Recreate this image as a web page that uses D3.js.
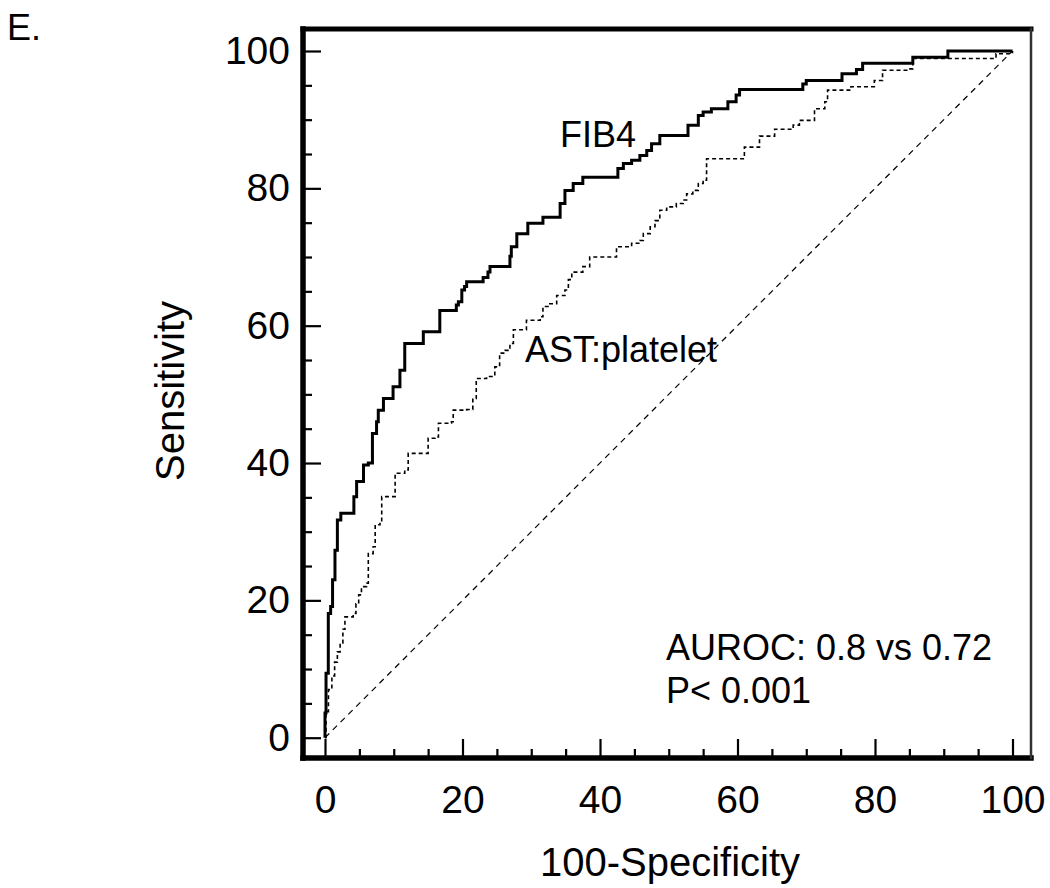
<!DOCTYPE html>
<html>
<head>
<meta charset="utf-8">
<script src="https://cdn.jsdelivr.net/npm/d3@7"></script>
<style>
  html, body { margin: 0; padding: 0; background: #fff; }
  svg { display: block; }
  text { font-family: "Liberation Sans", Arial, sans-serif; fill: #000; }
</style>
</head>
<body>
<svg id="chart" width="1050" height="888"></svg>
<script>
// ---- data ----
const xTicks = [0, 20, 40, 60, 80, 100];
const yTicks = [0, 20, 40, 60, 80, 100];
const minorStep = 5;

// FIB4 ROC: [100-Specificity, Sensitivity] at each step
const fib4Roc = [
  [0,0],[0,3.6],[0.15,9.4],[0.48,18.1],[0.82,19.1],[1.1,23.0],[1.45,27.3],[1.8,31.7],
  [2.3,32.7],[4.2,35.1],[4.6,37.3],[5.6,39.7],[6.3,40.0],[6.9,44.3],[7.5,46.0],[7.75,47.7],
  [8.5,49.4],[9.9,51.1],[10.9,53.5],[11.6,57.4],[14.3,59.1],[16.7,62.2],[19.1,63.0],[19.4,63.5],
  [19.9,65.2],[20.3,65.7],[20.6,66.4],[23.0,67.0],[23.7,67.8],[24.0,68.6],[26.9,70.1],[27.1,71.5],
  [27.9,73.4],[29.5,74.9],[31.7,75.8],[34.2,77.8],[34.9,79.7],[36.1,80.7],[37.5,81.6],[42.6,82.9],
  [43.4,83.6],[44.6,84.1],[45.8,84.8],[46.8,85.5],[47.5,86.5],[48.7,87.7],[52.8,89.2],[54.3,90.6],
  [55.0,91.1],[56.2,91.6],[58.6,92.6],[59.8,93.6],[60.3,94.4],[69.5,95.2],[70.0,95.7],[75.2,96.7],
  [77.3,97.3],[78.2,98.2],[85.5,99.1],[90.6,100],[100,100]
];

// AST:platelet ROC
const astRoc = [
  [0,0],[0.15,3.8],[0.5,7.0],[1.0,9.0],[1.4,11.0],[1.8,12.5],[2.2,13.8],[2.6,15.8],[2.9,17.6],
  [4.1,18.1],[4.5,19.5],[4.9,20.8],[5.3,22.0],[6.05,22.5],[6.3,26.8],[7.0,27.8],[7.3,31.0],
  [8.0,31.2],[8.25,35.1],[10.2,38.5],[11.6,39.0],[12.1,41.4],[15.0,43.6],[16.0,43.8],[16.5,45.8],
  [18.4,46.0],[18.65,47.7],[20.6,47.8],[21.5,49.4],[22.0,52.3],[23.5,52.6],[24.7,54.0],[25.4,56.0],
  [26.2,56.4],[26.9,57.4],[27.4,59.4],[29.3,60.8],[31.3,61.3],[31.7,62.8],[32.7,63.2],[33.7,64.4],
  [34.9,65.2],[35.4,66.7],[35.9,67.8],[37.5,68.6],[38.5,70.0],[42.4,71.5],[44.6,72.0],[45.8,72.4],
  [46.3,73.4],[47.3,74.4],[48.0,75.3],[48.7,76.8],[49.7,77.3],[51.1,77.8],[52.1,78.3],[52.6,79.2],
  [53.5,79.7],[54.3,80.7],[55.0,81.2],[55.5,84.3],[61.0,86.0],[63.2,87.6],[65.4,88.6],[68.1,89.2],
  [69.0,89.9],[71.2,91.6],[72.7,92.6],[73.1,94.3],[76.5,94.8],[79.9,95.7],[81.1,97.2],[84.8,97.4],
  [85.5,98.9],[97.6,99.6],[100,100]
];

const referenceLine = [[0,0],[100,100]];

const labels = {
  panel: "E.",
  xTitle: "100-Specificity",
  yTitle: "Sensitivity",
  fib4: "FIB4",
  ast: "AST:platelet",
  auroc: "AUROC: 0.8 vs 0.72",
  p: "P< 0.001"
};

// ---- layout ----
const svg = d3.select("#chart");
const frame = { left: 303, right: 1031, top: 29, bottom: 758 };
const x = d3.scaleLinear().domain([0, 100]).range([325, 1012.5]);
const y = d3.scaleLinear().domain([0, 100]).range([737.7, 51]);

const minorX = d3.range(0, 101, minorStep).filter(v => !xTicks.includes(v));
const minorY = d3.range(0, 101, minorStep).filter(v => !yTicks.includes(v));

// diagonal reference
const line = d3.line().x(d => x(d[0])).y(d => y(d[1]));
svg.append("path").datum(referenceLine)
  .attr("d", line).attr("fill", "none").attr("stroke", "#000")
  .attr("stroke-width", 1.2).attr("stroke-dasharray", "6,5");

// AST curve (dotted)
const stepLine = d3.line().x(d => x(d[0])).y(d => y(d[1])).curve(d3.curveStepAfter);
svg.append("path").datum(astRoc)
  .attr("d", stepLine).attr("fill", "none").attr("stroke", "#000")
  .attr("stroke-width", 1.6).attr("stroke-dasharray", "4,3");

// FIB4 curve (solid)
svg.append("path").datum(fib4Roc)
  .attr("d", stepLine).attr("fill", "none").attr("stroke", "#000")
  .attr("stroke-width", 3);

// axes with inward ticks
const fs = 39;
const yAxis = svg.append("g").attr("transform", `translate(${frame.left},0)`)
  .call(d3.axisLeft(y).tickValues(yTicks).tickSize(-18).tickPadding(13));
const yMinor = svg.append("g").attr("transform", `translate(${frame.left},0)`)
  .call(d3.axisLeft(y).tickValues(minorY).tickSize(-9).tickFormat(""));
const xAxis = svg.append("g").attr("transform", `translate(0,${frame.bottom})`)
  .call(d3.axisBottom(x).tickValues(xTicks).tickSize(-19).tickPadding(27));
const xMinor = svg.append("g").attr("transform", `translate(0,${frame.bottom})`)
  .call(d3.axisBottom(x).tickValues(minorX).tickSize(-9).tickFormat(""));

[yAxis, yMinor, xAxis, xMinor].forEach(g => {
  g.select(".domain").remove();
  g.selectAll(".tick line").attr("stroke", "#000").attr("stroke-width", 2.2);
  g.selectAll(".tick text").attr("font-size", fs)
    .attr("font-family", "Liberation Sans, Arial, sans-serif").attr("fill", "#000");
});

// frame
const fr = svg.append("g").attr("stroke", "#000").attr("stroke-linecap", "square");
fr.append("line").attr("x1", frame.left).attr("x2", frame.right).attr("y1", frame.top).attr("y2", frame.top).attr("stroke-width", 5);
fr.append("line").attr("x1", frame.left).attr("x2", frame.right).attr("y1", frame.bottom).attr("y2", frame.bottom).attr("stroke-width", 5.5);
fr.append("line").attr("x1", frame.left).attr("x2", frame.left).attr("y1", frame.top).attr("y2", frame.bottom).attr("stroke-width", 5.5);
fr.append("line").attr("x1", frame.right).attr("x2", frame.right).attr("y1", frame.top).attr("y2", frame.bottom).attr("stroke-width", 2.5).attr("stroke", "#333");

// titles & annotations
svg.append("text").attr("x", 7).attr("y", 40).attr("font-size", 36).text(labels.panel);
svg.append("text").attr("x", 670).attr("y", 876).attr("text-anchor", "middle").attr("font-size", 40).text(labels.xTitle);
svg.append("text").attr("transform", "translate(184,391) rotate(-90)").attr("text-anchor", "middle").attr("font-size", 40).text(labels.yTitle);
svg.append("text").attr("x", 598).attr("y", 147).attr("text-anchor", "middle").attr("font-size", 36).text(labels.fib4);
svg.append("text").attr("x", 525).attr("y", 362).attr("font-size", 36).text(labels.ast);
svg.append("text").attr("x", 666).attr("y", 660).attr("font-size", 36).text(labels.auroc);
svg.append("text").attr("x", 666).attr("y", 703).attr("font-size", 36).text(labels.p);
</script>
</body>
</html>
